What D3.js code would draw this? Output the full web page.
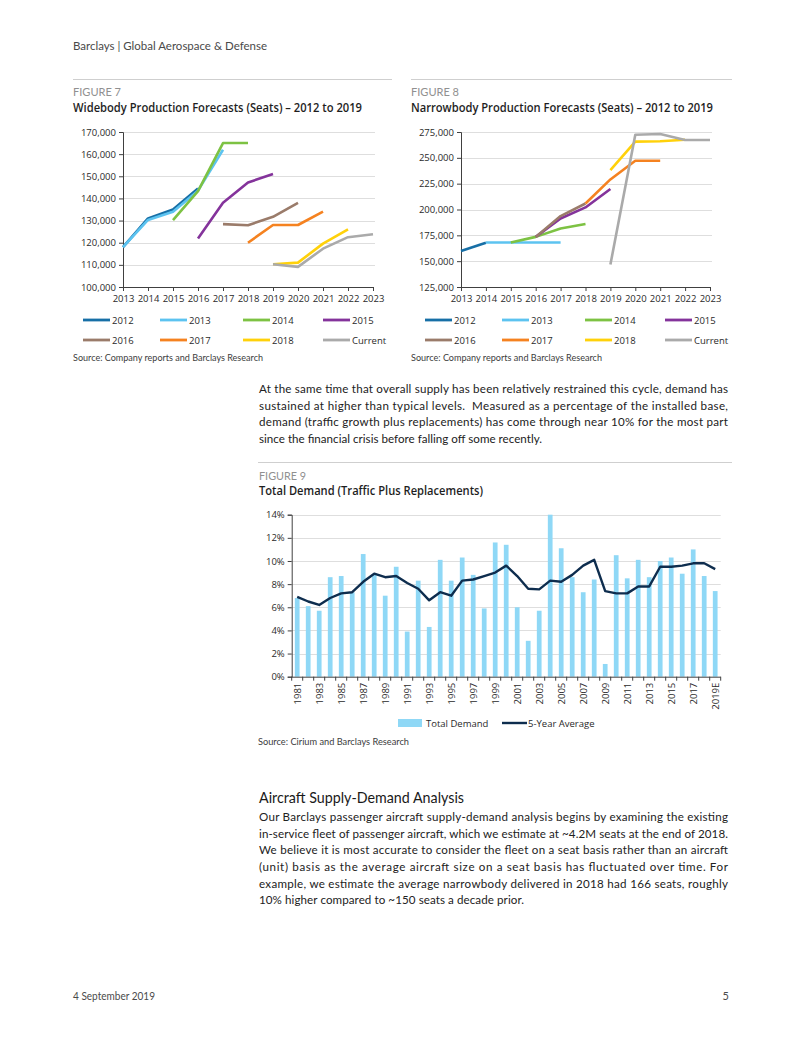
<!DOCTYPE html>
<html><head><meta charset="utf-8">
<script src="https://cdn.jsdelivr.net/npm/d3@7"></script>
<style>body{margin:0;background:#fff}svg{display:block}</style>
</head><body><svg id="page" width="802" height="1037"></svg>
<script>
// ---------- DATA ----------
const forecastYears = [2013,2014,2015,2016,2017,2018,2019,2020,2021,2022,2023];
const seriesNames = ["2012","2013","2014","2015","2016","2017","2018","Current"];
const seriesColors = ["#176FA6","#5CC3F0","#7DC243","#84339B","#9A7B6A","#F58220","#FFD10A","#AAAAAA"];

const wide2012 = [118000,131000,135000,144500,null,null,null,null,null,null,null];
const wide2013 = [118000,130300,134000,143500,162000,null,null,null,null,null,null];
const wide2014 = [null,null,130200,143300,165000,165000,null,null,null,null,null];
const wide2015 = [null,null,null,121900,138000,147200,151000,null,null,null,null];
const wide2016 = [null,null,null,null,128400,127900,131700,138000,null,null,null];
const wide2017 = [null,null,null,null,null,120000,128000,128000,134000,null,null];
const wide2018 = [null,null,null,null,null,null,110300,111000,119600,126000,null];
const wideCurrent = [null,null,null,null,null,null,110300,109100,117300,122500,123800];
const wideTicks = [100000,110000,120000,130000,140000,150000,160000,170000];

const narrow2012 = [159800,167800,null,null,null,null,null,null,null,null,null];
const narrow2013 = [null,168000,168000,168000,168000,null,null,null,null,null,null];
const narrow2014 = [null,null,168000,173500,181700,185900,null,null,null,null,null];
const narrow2015 = [null,null,null,173500,191300,202000,219800,null,null,null,null];
const narrow2016 = [null,null,null,173500,193600,205800,null,null,null,null,null];
const narrow2017 = [null,null,null,null,null,205800,229100,247200,247200,null,null];
const narrow2018 = [null,null,null,null,null,null,238200,265700,266000,267500,null];
const narrowCurrent = [null,null,null,null,null,null,146700,272300,273000,267300,267300];
const narrowTicks = [125000,150000,175000,200000,225000,250000,275000];

const demandYears = ["1981","1982","1983","1984","1985","1986","1987","1988","1989","1990",
  "1991","1992","1993","1994","1995","1996","1997","1998","1999","2000",
  "2001","2002","2003","2004","2005","2006","2007","2008","2009","2010",
  "2011","2012","2013","2014","2015","2016","2017","2018","2019E"];
const totalDemand = [6.8,6.1,5.7,8.6,8.7,7.3,10.6,8.8,7.0,9.5,
  3.9,8.3,4.3,10.1,8.3,10.3,8.8,5.9,11.6,11.4,
  6.0,3.1,5.7,14.0,11.1,8.6,7.3,8.4,1.1,10.5,
  8.5,10.1,8.6,10.0,10.3,8.9,11.0,8.7,7.4];
const fiveYearAvg = [6.9,6.5,6.2,6.8,7.2,7.3,8.2,8.9,8.6,8.7,
  8.1,7.6,6.6,7.3,7.0,8.3,8.4,8.7,9.0,9.6,
  8.7,7.6,7.55,8.3,8.2,8.8,9.6,10.1,7.4,7.2,
  7.2,7.8,7.8,9.5,9.5,9.6,9.8,9.8,9.3];
const demandTicks = [0,2,4,6,8,10,12,14];
const demandLegend = ["Total Demand","5-Year Average"];

const headerText = "Barclays | Global Aerospace & Defense";
const fig7Label = "FIGURE 7", fig7Title = "Widebody Production Forecasts (Seats) \u2013 2012 to 2019";
const fig8Label = "FIGURE 8", fig8Title = "Narrowbody Production Forecasts (Seats) \u2013 2012 to 2019";
const fig9Label = "FIGURE 9", fig9Title = "Total Demand (Traffic Plus Replacements)";
const source78 = "Source: Company reports and Barclays Research";
const source9 = "Source: Cirium and Barclays Research";
const para1 = [
  "At the same time that overall supply has been relatively restrained this cycle, demand has",
  "sustained at higher than typical levels.  Measured as a percentage of the installed base,",
  "demand (traffic growth plus replacements) has come through near 10% for the most part",
  "since the financial crisis before falling off some recently."];
const heading2 = "Aircraft Supply-Demand Analysis";
const para2 = [
  "Our Barclays passenger aircraft supply-demand analysis begins by examining the existing",
  "in-service fleet of passenger aircraft, which we estimate at ~4.2M seats at the end of 2018.",
  "We believe it is most accurate to consider the fleet on a seat basis rather than an aircraft",
  "(unit) basis as the average aircraft size on a seat basis has fluctuated over time. For",
  "example, we estimate the average narrowbody delivered in 2018 had 166 seats, roughly",
  "10% higher compared to ~150 seats a decade prior."];
const footerDate = "4 September 2019", footerPage = "5";

// ---------- DRAW ----------
const svg = d3.select("#page");
const FONT = "Lato, 'Open Sans', sans-serif";
const CFONT = "'Open Sans', Lato, sans-serif";

function txt(x, y, s, o = {}) {
  const t = svg.append("text").attr("x", x).attr("y", y).text(s)
    .attr("font-family", o.family || FONT)
    .attr("font-size", o.size || 12)
    .attr("font-weight", o.weight || 400)
    .attr("fill", o.fill || "#222")
    .attr("text-anchor", o.anchor || "start")
    .style("white-space", "pre");
  if (o.width) t.attr("textLength", o.width).attr("lengthAdjust", o.adjust || "spacingAndGlyphs");
  return t;
}
function hline(x1, x2, y, c) {
  svg.append("line").attr("x1", x1).attr("x2", x2).attr("y1", y).attr("y2", y)
    .attr("stroke", c || "#cfcfcf").attr("stroke-width", 1);
}

// header
txt(73, 50, headerText, {size: 12, fill: "#4a4a4a", width: 194});
hline(73, 392, 79.5); hline(411, 732, 79.5);
txt(73, 96, fig7Label, {size: 11, fill: "#909090", width: 48});
txt(411, 96, fig8Label, {size: 11, fill: "#909090", width: 48});
txt(73, 112, fig7Title, {size: 12, weight: 600, fill: "#1e1e1e", width: 289, family: CFONT});
txt(411, 112, fig8Title, {size: 12, weight: 600, fill: "#1e1e1e", width: 302, family: CFONT});

function lineChart(cfg) {
  const g = svg.append("g");
  const x = d3.scalePoint().domain(forecastYears).range([cfg.x0, cfg.x1]);
  const y = d3.scaleLinear().domain([cfg.ticks[0], cfg.ticks[cfg.ticks.length - 1]]).range([cfg.y1, cfg.y0]);
  g.selectAll("line.grid").data(cfg.ticks.slice(1)).join("line")
    .attr("x1", cfg.x0).attr("x2", cfg.x1 + 2)
    .attr("y1", d => Math.round(y(d)) + 0.5).attr("y2", d => Math.round(y(d)) + 0.5)
    .attr("stroke", "#dedede");
  const ya = g.append("g").attr("transform", `translate(${cfg.x0},0)`)
    .call(d3.axisLeft(y).tickValues(cfg.ticks).tickFormat(d3.format(",")).tickSize(4).tickPadding(3));
  const xa = g.append("g").attr("transform", `translate(0,${cfg.y1})`)
    .call(d3.axisBottom(x).tickSize(4).tickPadding(4).tickFormat(d3.format("d")));
  [ya, xa].forEach(a => {
    a.select(".domain").attr("stroke", "#404040");
    a.selectAll(".tick line").attr("stroke", "#404040");
    a.selectAll("text").attr("font-family", CFONT).attr("font-size", 9.5).attr("fill", "#2a2a2a");
  });
  const line = d3.line().defined(d => d[1] != null).x(d => x(d[0])).y(d => y(d[1]));
  cfg.series.forEach((s, i) => {
    g.append("path").datum(s.map((v, j) => [forecastYears[j], v]))
      .attr("d", line).attr("fill", "none").attr("stroke", seriesColors[i])
      .attr("stroke-width", 2.6).attr("stroke-linejoin", "round");
  });
  // legend
  const cols = [0, 77, 160, 240];
  seriesNames.forEach((n, i) => {
    const lx = cfg.legendX + cols[i % 4], ly = cfg.legendY + Math.floor(i / 4) * 20;
    g.append("line").attr("x1", lx).attr("x2", lx + 27).attr("y1", ly).attr("y2", ly)
      .attr("stroke", seriesColors[i]).attr("stroke-width", 2.8);
    g.append("text").attr("x", lx + 29).attr("y", ly + 3.5).text(n)
      .attr("font-family", CFONT).attr("font-size", 9.5).attr("fill", "#2a2a2a");
  });
}

lineChart({x0: 123, x1: 373, y0: 132, y1: 287, ticks: wideTicks,
  series: [wide2012, wide2013, wide2014, wide2015, wide2016, wide2017, wide2018, wideCurrent],
  legendX: 83, legendY: 320});
lineChart({x0: 461, x1: 710, y0: 132, y1: 287, ticks: narrowTicks,
  series: [narrow2012, narrow2013, narrow2014, narrow2015, narrow2016, narrow2017, narrow2018, narrowCurrent],
  legendX: 425, legendY: 320});

txt(73, 361, source78, {size: 9.5, fill: "#3c3c3c", width: 190});
txt(411, 361, source78, {size: 9.5, fill: "#3c3c3c", width: 191});

// paragraph 1
const p1y = [393, 409.5, 426, 442.5];
para1.forEach((s, i) => {
  const last = i === para1.length - 1;
  txt(259, p1y[i], s, {size: 11.6, fill: "#222", width: last ? 283 : 469, adjust: "spacing"});
});

hline(258, 732, 462.5);
txt(259, 480, fig9Label, {size: 11, fill: "#909090", width: 47});
txt(259, 495, fig9Title, {size: 12, weight: 600, fill: "#1e1e1e", width: 224, family: CFONT});

// Figure 9 chart
{
  const g = svg.append("g");
  const X0 = 291.7, X1 = 720.7, Y0 = 514.7, Y1 = 676.7;
  const x = d3.scaleBand().domain(demandYears).range([X0, X1]).paddingInner(0.57).paddingOuter(0.285);
  const y = d3.scaleLinear().domain([0, 14]).range([Y1, Y0]);
  g.selectAll("line.grid").data(demandTicks.slice(1)).join("line")
    .attr("x1", X0).attr("x2", X1)
    .attr("y1", d => Math.round(y(d)) + 0.5).attr("y2", d => Math.round(y(d)) + 0.5)
    .attr("stroke", "#dedede");
  g.selectAll("rect.bar").data(totalDemand).join("rect")
    .attr("x", (d, i) => x(demandYears[i])).attr("width", x.bandwidth())
    .attr("y", d => y(d)).attr("height", d => Y1 - y(d)).attr("fill", "#8FD8F6");
  const ya = g.append("g").attr("transform", `translate(${X0},0)`)
    .call(d3.axisLeft(y).tickValues(demandTicks).tickFormat(d => d + "%").tickSize(4).tickPadding(3));
  ya.select(".domain").attr("stroke", "#404040");
  ya.selectAll(".tick line").attr("stroke", "#404040");
  ya.selectAll("text").attr("font-family", CFONT).attr("font-size", 9.5).attr("fill", "#2a2a2a");
  // x axis
  g.append("line").attr("x1", X0).attr("x2", X1).attr("y1", Y1 + 0.5).attr("y2", Y1 + 0.5).attr("stroke", "#404040");
  const step = x.step();
  g.selectAll("line.xt").data(d3.range(demandYears.length + 1)).join("line")
    .attr("x1", i => X0 + i * step).attr("x2", i => X0 + i * step)
    .attr("y1", Y1).attr("y2", Y1 + 4).attr("stroke", "#404040");
  g.selectAll("text.xl").data(demandYears.filter((d, i) => i % 2 === 0)).join("text")
    .attr("transform", d => `translate(${x(d) + x.bandwidth() / 2 + 3.5},${Y1 + 6}) rotate(-90)`)
    .attr("text-anchor", "end").text(d => d)
    .attr("font-family", CFONT).attr("font-size", 9.5).attr("fill", "#2a2a2a");
  const line = d3.line().x((d, i) => x(demandYears[i]) + x.bandwidth() / 2).y(d => y(d));
  g.append("path").datum(fiveYearAvg).attr("d", line).attr("fill", "none")
    .attr("stroke", "#0E2D4E").attr("stroke-width", 2.4).attr("stroke-linejoin", "round");
  // legend
  g.append("rect").attr("x", 398).attr("y", 719).attr("width", 24).attr("height", 8).attr("fill", "#8FD8F6");
  g.append("text").attr("x", 426).attr("y", 726.5).text(demandLegend[0])
    .attr("font-family", CFONT).attr("font-size", 9.5).attr("fill", "#2a2a2a");
  g.append("line").attr("x1", 502).attr("x2", 527).attr("y1", 723).attr("y2", 723)
    .attr("stroke", "#0E2D4E").attr("stroke-width", 2.4);
  g.append("text").attr("x", 528).attr("y", 726.5).text(demandLegend[1])
    .attr("font-family", CFONT).attr("font-size", 9.5).attr("fill", "#2a2a2a");
}
txt(258, 745, source9, {size: 9.5, fill: "#3c3c3c", width: 151});

// Section 2
txt(259, 803, heading2, {size: 15, weight: 400, fill: "#1a1a1a", width: 205});
const p2y = [821, 837.5, 854, 871, 887.5, 904];
para2.forEach((s, i) => {
  const last = i === para2.length - 1;
  txt(259, p2y[i], s, {size: 11.6, fill: "#222", width: last ? 265 : 469, adjust: "spacing"});
});

// footer
txt(73, 1000, footerDate, {size: 11, fill: "#4a4a4a", width: 82});
txt(729, 1000, footerPage, {size: 11, fill: "#4a4a4a", anchor: "end"});
</script></body></html>
